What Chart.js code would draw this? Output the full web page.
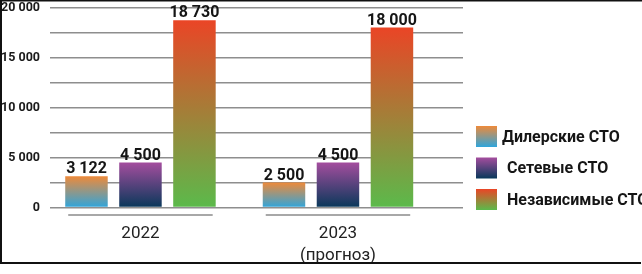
<!DOCTYPE html>
<html lang="ru">
<head>
  <meta charset="UTF-8" />
  <title>СТО</title>
  <script src="https://cdn.jsdelivr.net/npm/chart.js"></script>
  <style>
    html, body { margin: 0; padding: 0; background: #fff; }
    canvas { display: block; }
  </style>
</head>
<body>
  <canvas id="chart" width="642" height="274"></canvas>

  <script>
    // data
    const years = ['2022', '2023'];
    const yearNotes = ['', '(прогноз)'];
    const seriesNames = ['Дилерские СТО', 'Сетевые СТО', 'Независимые СТО'];
    const dealer = [3122, 2500];
    const chain = [4500, 4500];
    const independent = [18730, 18000];
    const yLabels = [0, 5000, 10000, 15000, 20000];

    // top -> bottom colours of each series
    const gradients = [
      ['#ee8a3a', '#2ea5dc'],
      ['#a44d9e', '#08385a'],
      ['#ea4526', '#5bba4b']
    ];

    const fmt = v => String(v).replace(/\B(?=(\d{3})+(?!\d))/g, ' ');

    function fillFor(s) {
      return c => {
        const y = c.chart.scales.y;
        if (c.type !== 'data' || !y || !c.parsed) return gradients[s][0];
        const top = y.getPixelForValue(c.parsed.y);
        const bottom = y.getPixelForValue(0);
        if (!isFinite(top) || !isFinite(bottom) || top === bottom) return gradients[s][0];
        const g = c.chart.ctx.createLinearGradient(0, top, 0, bottom);
        g.addColorStop(0, gradients[s][0]);
        g.addColorStop(1, gradients[s][1]);
        return g;
      };
    }

    const seriesValues = [dealer, chain, independent];

    // grey line under each year group
    const groupLines = {
      id: 'groupLines',
      afterDatasetsDraw(chart) {
        const { ctx, chartArea } = chart;
        ctx.save();
        ctx.strokeStyle = '#a8a8a8';
        ctx.lineWidth = 2;
        years.forEach((_, i) => {
          const bars = seriesValues.map((_, s) => chart.getDatasetMeta(s).data[i]);
          const left = Math.min(...bars.map(b => b.x - b.width / 2)) + 3;
          const right = Math.max(...bars.map(b => b.x + b.width / 2)) - 3;
          const y = chartArea.bottom + 7.5;
          ctx.beginPath();
          ctx.moveTo(left, y);
          ctx.lineTo(right, y);
          ctx.stroke();
        });
        ctx.restore();
      }
    };

    // numbers above the bars
    const valueLabels = {
      id: 'valueLabels',
      afterDatasetsDraw(chart) {
        const ctx = chart.ctx;
        ctx.save();
        ctx.font = 'bold 16px Roboto';
        ctx.fillStyle = '#151515';
        ctx.textAlign = 'center';
        ctx.textBaseline = 'alphabetic';
        seriesValues.forEach((vals, s) => {
          chart.getDatasetMeta(s).data.forEach((bar, i) => {
            ctx.fillText(fmt(vals[i]), bar.x, bar.y - 3);
          });
        });
        ctx.restore();
      }
    };

    // legend with gradient swatches
    const sideLegend = {
      id: 'sideLegend',
      afterDraw(chart) {
        const ctx = chart.ctx;
        ctx.save();
        ctx.font = 'bold 16px Roboto';
        ctx.textBaseline = 'middle';
        seriesNames.forEach((name, s) => {
          const x = 476, top = 126 + s * 31.5, size = 21;
          const g = ctx.createLinearGradient(0, top, 0, top + size);
          g.addColorStop(0, gradients[s][0]);
          g.addColorStop(1, gradients[s][1]);
          ctx.fillStyle = g;
          ctx.fillRect(x, top, size, size);
          ctx.fillStyle = '#151515';
          ctx.fillText(name, x + size + 5 + (s ? 5 : 0), top + size / 2 + 1);
        });
        ctx.restore();
      }
    };

    // black frame round the picture
    const frame = {
      id: 'frame',
      afterDraw(chart) {
        const ctx = chart.ctx;
        ctx.save();
        ctx.strokeStyle = '#111';
        ctx.lineWidth = 2;
        ctx.beginPath();
        ctx.moveTo(1, 0);
        ctx.lineTo(1, 264);
        ctx.moveTo(0, 263);
        ctx.lineTo(641, 263);
        ctx.stroke();
        ctx.lineWidth = 1.5;
        ctx.beginPath();
        ctx.moveTo(0, 0.75);
        ctx.lineTo(642, 0.75);
        ctx.stroke();
        ctx.restore();
      }
    };

    new Chart(document.getElementById('chart'), {
      type: 'bar',
      data: {
        datasets: seriesValues.map((vals, s) => ({
          label: seriesNames[s],
          data: vals.map((v, i) => ({ x: i, y: v })),
          backgroundColor: fillFor(s),
          borderWidth: 0,
          categoryPercentage: 0.82,
          barPercentage: 0.787
        }))
      },
      options: {
        responsive: false,
        animation: false,
        layout: { padding: { top: 0, right: 179, bottom: 0, left: 0 } },
        plugins: {
          legend: { display: false },
          tooltip: { enabled: false }
        },
        scales: {
          x: {
            type: 'linear',
            offset: false,
            bounds: 'data',
            min: -0.458,
            max: 1.633,
            grid: { display: false, offset: false },
            border: { display: false },
            afterBuildTicks: scale => { scale.ticks = years.map((_, i) => ({ value: i })); },
            afterFit: scale => { scale.height = 66.5; },
            ticks: {
              padding: 7.5,
              color: '#222',
              font: { family: 'Roboto', size: 17, lineHeight: 1.3 },
              callback: v => yearNotes[v] ? [years[v], yearNotes[v]] : years[v]
            }
          },
          y: {
            min: 0,
            max: 20000,
            grid: { color: '#8e8e8e', lineWidth: 1.5, drawTicks: false },
            border: { display: false },
            afterFit: scale => {
              scale.width = 50;
              scale.paddingTop = 7.5;
              scale.paddingBottom = 7.5;
            },
            ticks: {
              stepSize: 2500,
              padding: 10,
              color: '#1a1a1a',
              font: { family: 'Roboto', size: 12.5, weight: 'bold' },
              callback: v => yLabels.includes(v) ? fmt(v) : ''
            }
          }
        }
      },
      plugins: [groupLines, valueLabels, sideLegend, frame]
    });
  </script>
</body>
</html>
